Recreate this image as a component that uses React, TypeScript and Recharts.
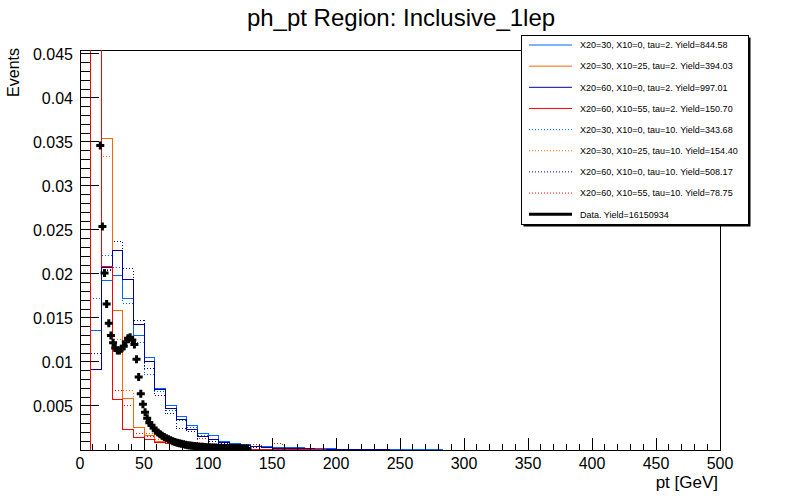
import React from 'react';
import { ComposedChart, Line, Scatter, XAxis, YAxis, ReferenceArea } from 'recharts';

// ---------- binning ----------
const N_BINS = 60;
const X_MAX = 500;
const BIN_W = X_MAX / N_BINS;
const Y_MAX = 0.04545;

// ---------- MC histograms (60 bins of 8.33 GeV; missing bins are 0) ----------
const sA_tau2 = [0, 0.01356, 0.01924, 0.0198, 0.01716, 0.013, 0.01047, 0.00704, 0.005, 0.00375, 0.0028, 0.00193, 0.0016, 0.001, 0.00078, 0.00058, 0.00042, 0.00036, 0.00026, 0.00026, 0.00025, 0.00018, 0.00014, 0.00012, 0.0001, 0.00008, 0.00007, 0.00006, 0.00005, 0.00004, 0.00003, 0.00003, 0.00002, 0.00002];
const sB_tau2 = [0, 0.052, 0.03545, 0.0159, 0.0059, 0.0025, 0.0016, 0.00098, 0.0007, 0.0005, 0.0004, 0.0003, 0.00022, 0.00018, 0.00014, 0.0001, 0.00008, 0.00006, 0.00005, 0.00004, 0.00003, 0.00002, 0.00002, 0.00001];
const sC_tau2 = [0, 0.0092, 0.0207, 0.02265, 0.01935, 0.01424, 0.01, 0.0069, 0.00468, 0.00344, 0.00238, 0.0015, 0.0012, 0.0009, 0.0006, 0.00048, 0.00036, 0.0003, 0.00022, 0.00018, 0.00015, 0.00012, 0.0001, 0.00008, 0.00006, 0.00005, 0.00004, 0.00003, 0.00002];
const sD_tau2 = [0, 0.065, 0.0209, 0.0057, 0.00235, 0.0014, 0.0012, 0.0009, 0.0007, 0.0005, 0.0004, 0.0003, 0.00025, 0.0002, 0.00015, 0.00012, 0.0001, 0.00008, 0.00006, 0.00005, 0.00004, 0.00003, 0.00002];
const sA_tau10 = [0, 0.01727, 0.0221, 0.0207, 0.0167, 0.0122, 0.00856, 0.00663, 0.0045, 0.0033, 0.0025, 0.0017, 0.0012, 0.0009, 0.0006, 0.0005, 0.0004, 0.0003, 0.00025, 0.0002, 0.00018, 0.00015, 0.0001, 0.00008, 0.00006, 0.00004, 0.00003];
const sB_tau10 = [0, 0.05, 0.0334, 0.01253, 0.00674, 0.0026, 0.00185, 0.0012, 0.0008, 0.0006, 0.0005, 0.0004, 0.0003, 0.00025, 0.0002, 0.00015, 0.0001, 0.00008, 0.00006, 0.00004, 0.00003];
const sC_tau10 = [0, 0.01102, 0.0204, 0.0237, 0.02057, 0.0147, 0.0093, 0.0062, 0.00413, 0.0024, 0.00212, 0.00125, 0.001, 0.0007, 0.0005, 0.0004, 0.0003, 0.00025, 0.0002, 0.00015, 0.00012, 0.0001, 0.00008, 0.00006, 0.00004];
const sD_tau10 = [0, 0.06, 0.0205, 0.00677, 0.00503, 0.0019, 0.0015, 0.0009, 0.0008, 0.0006, 0.0007, 0.00125, 0.0003, 0.0003, 0.0002, 0.0004, 0.0006, 0.0003, 0.0007, 0.0002, 0.0001, 0.0001, 0.00005];

// ---------- data (bins of 1.667 GeV starting at 15 GeV) ----------
const DATA_BIN_W = 500 / 300;
const DATA_FIRST_LOW = 15;
const dataValues = [
  0.0346, 0.0254, 0.0201, 0.0166, 0.0144, 0.013, 0.0122, 0.0116, 0.0113, 0.0113,
  0.0115, 0.0118, 0.0123, 0.0127, 0.0128, 0.0125, 0.012, 0.0103, 0.0083, 0.0064,
  0.0052, 0.0043, 0.0036, 0.0031, 0.0028, 0.0025, 0.0022, 0.002, 0.0018, 0.00163,
  0.00148, 0.00134, 0.00121, 0.0011, 0.001, 0.00091, 0.00083, 0.00076, 0.0007, 0.00064,
  0.00059, 0.00055, 0.00051, 0.00048, 0.00045, 0.00042, 0.0004, 0.00038, 0.00036, 0.00034,
  0.00032, 0.00031, 0.00029, 0.00028, 0.00027, 0.00026, 0.00025, 0.00024, 0.00023, 0.00022,
  0.00022, 0.00021, 0.0002, 0.0002, 0.00019, 0.00019, 0.00018, 0.00018, 0.00017, 0.00017,
];

// ---------- axis ticks ----------
const xTicks = Array.from({ length: 51 }, (_, i) => i * 10);
const xMajorLabels = ['0', '50', '100', '150', '200', '250', '300', '350', '400', '450', '500'];
const yTicks = Array.from({ length: 46 }, (_, i) => i / 1000);
const yMajorValues = [0.005, 0.01, 0.015, 0.02, 0.025, 0.03, 0.035, 0.04, 0.045];
const yMajorLabels = ['0.005', '0.01', '0.015', '0.02', '0.025', '0.03', '0.035', '0.04', '0.045'];

// ---------- series styling / legend ----------
const seriesDefs = [
  { key: 'sA_tau10', values: sA_tau10, color: '#0066ff', dotted: true, label: 'X20=30, X10=0, tau=10. Yield=343.68' },
  { key: 'sB_tau10', values: sB_tau10, color: '#ff6600', dotted: true, label: 'X20=30, X10=25, tau=10. Yield=154.40' },
  { key: 'sC_tau10', values: sC_tau10, color: '#000099', dotted: true, label: 'X20=60, X10=0, tau=10. Yield=508.17' },
  { key: 'sD_tau10', values: sD_tau10, color: '#ff0000', dotted: true, label: 'X20=60, X10=55, tau=10. Yield=78.75' },
  { key: 'sA_tau2', values: sA_tau2, color: '#0066ff', dotted: false, label: 'X20=30, X10=0, tau=2. Yield=844.58' },
  { key: 'sB_tau2', values: sB_tau2, color: '#ff6600', dotted: false, label: 'X20=30, X10=25, tau=2. Yield=394.03' },
  { key: 'sC_tau2', values: sC_tau2, color: '#000099', dotted: false, label: 'X20=60, X10=0, tau=2. Yield=997.01' },
  { key: 'sD_tau2', values: sD_tau2, color: '#ff0000', dotted: false, label: 'X20=60, X10=55, tau=2. Yield=150.70' },
];
const legendOrder = ['sA_tau2', 'sB_tau2', 'sC_tau2', 'sD_tau2', 'sA_tau10', 'sB_tau10', 'sC_tau10', 'sD_tau10'];
const dataLabel = 'Data. Yield=16150934';

const FONT = '"Liberation Sans", Arial, Helvetica, sans-serif';

// build histogram table: one row per bin edge
const histRows = Array.from({ length: N_BINS + 1 }, (_, i) => {
  const row: Record<string, number> = { x: i * BIN_W };
  const bi = Math.min(i, N_BINS - 1);
  seriesDefs.forEach((s) => {
    row[s.key] = s.values[bi] ?? 0;
  });
  return row;
});

const dataRows = dataValues.map((v, k) => ({
  x: DATA_FIRST_LOW + DATA_BIN_W * (k + 0.5),
  y: v,
}));

const XTick = (props: any) => {
  const { x, y, payload } = props;
  const v = payload.value as number;
  const major = v % 50 === 0;
  return (
    <g>
      <line x1={x} x2={x} y1={y} y2={y - (major ? 12 : 6)} stroke="#000" strokeWidth={1} shapeRendering="crispEdges" />
      {major && (
        <text x={x} y={y + 19} textAnchor="middle" fontSize={16} fontFamily={FONT} fill="#000">
          {xMajorLabels[v / 50]}
        </text>
      )}
    </g>
  );
};

const YTick = (props: any) => {
  const { x, y, payload } = props;
  const v = payload.value as number;
  const idx = yMajorValues.indexOf(v);
  const major = idx >= 0 || v === 0;
  return (
    <g>
      <line x1={x} x2={x + (major ? 19 : 9.6)} y1={y} y2={y} stroke="#000" strokeWidth={1} shapeRendering="crispEdges" />
      {idx >= 0 && (
        <text x={x - 7} y={y + 6} textAnchor="end" fontSize={16} fontFamily={FONT} fill="#000">
          {yMajorLabels[idx]}
        </text>
      )}
    </g>
  );
};

const CrossMarker = (props: any) => {
  const { cx, cy } = props;
  if (cx == null || cy == null) return null;
  const a = 4;
  const t = 1.5;
  return (
    <path
      d={`M${cx - a},${cy - t}H${cx - t}V${cy - a}H${cx + t}V${cy - t}H${cx + a}V${cy + t}H${cx + t}V${cy + a}H${cx - t}V${cy + t}H${cx - a}Z`}
      fill="#000"
    />
  );
};

const Legend = () => {
  const rowY0 = 45;
  const rowStep = 21.15;
  const entries = legendOrder.map((k) => seriesDefs.find((s) => s.key === k)!);
  return (
    <svg width={800} height={500} style={{ position: 'absolute', left: 0, top: 0, pointerEvents: 'none' }}>
      <rect x={523.5} y={37.5} width={227} height={189} fill="#000" />
      <rect x={521.5} y={35.5} width={227} height={189} fill="#fff" stroke="#000" strokeWidth={1} />
      {entries.map((s, i) => {
        const y = rowY0 + i * rowStep;
        return (
          <g key={s.key}>
            <line x1={529} x2={572} y1={y} y2={y} stroke={s.color} strokeWidth={1} strokeDasharray={s.dotted ? '1 2' : undefined} />
            <text x={580} y={y + 3.3} fontSize={9} fontFamily={FONT} fill="#000">{s.label}</text>
          </g>
        );
      })}
      <line x1={529} x2={572} y1={rowY0 + 8 * rowStep} y2={rowY0 + 8 * rowStep} stroke="#000" strokeWidth={3} />
      <text x={580} y={rowY0 + 8 * rowStep + 3.3} fontSize={9} fontFamily={FONT} fill="#000">{dataLabel}</text>
    </svg>
  );
};

export default function App() {
  return (
    <div style={{ position: 'absolute', left: 0, top: 0, width: 800, height: 500, background: '#fff', fontFamily: FONT }}>
      <ComposedChart width={800} height={500} data={histRows} margin={{ top: 50, right: 80, bottom: 0, left: 0 }}>
        <XAxis
          dataKey="x"
          type="number"
          domain={[0, X_MAX]}
          ticks={xTicks}
          interval={0}
          tick={XTick}
          tickSize={0}
          tickMargin={0}
          tickLine={false}
          axisLine={false}
          height={50}
          allowDataOverflow
        />
        <YAxis
          type="number"
          domain={[0, Y_MAX]}
          ticks={yTicks}
          interval={0}
          tick={YTick}
          tickSize={0}
          tickMargin={0}
          tickLine={false}
          axisLine={false}
          width={80}
          allowDataOverflow
        />
        <ReferenceArea x1={0} x2={X_MAX} y1={0} y2={Y_MAX} fill="none" stroke="#000" strokeWidth={1} ifOverflow="visible" shapeRendering="crispEdges" />
        {seriesDefs.map((s) => (
          <Line
            key={s.key}
            dataKey={s.key}
            type="stepAfter"
            stroke={s.color}
            strokeWidth={1}
            strokeDasharray={s.dotted ? '1 2' : undefined}
            dot={false}
            activeDot={false}
            isAnimationActive={false}
            shapeRendering="crispEdges"
          />
        ))}
        <Scatter data={dataRows} dataKey="y" shape={CrossMarker} isAnimationActive={false} />
      </ComposedChart>
      <svg width={800} height={500} style={{ position: 'absolute', left: 0, top: 0, pointerEvents: 'none' }}>
        <text x={401} y={26} textAnchor="middle" fontSize={24} fontFamily={FONT} fill="#000">ph_pt Region: Inclusive_1lep</text>
        <text transform="translate(18.5,48) rotate(-90)" x={0} y={0} textAnchor="end" fontSize={16} fontFamily={FONT} fill="#000">Events</text>
        <text x={718} y={488} textAnchor="end" fontSize={17} fontFamily={FONT} fill="#000">pt [GeV]</text>
      </svg>
      <Legend />
    </div>
  );
}
